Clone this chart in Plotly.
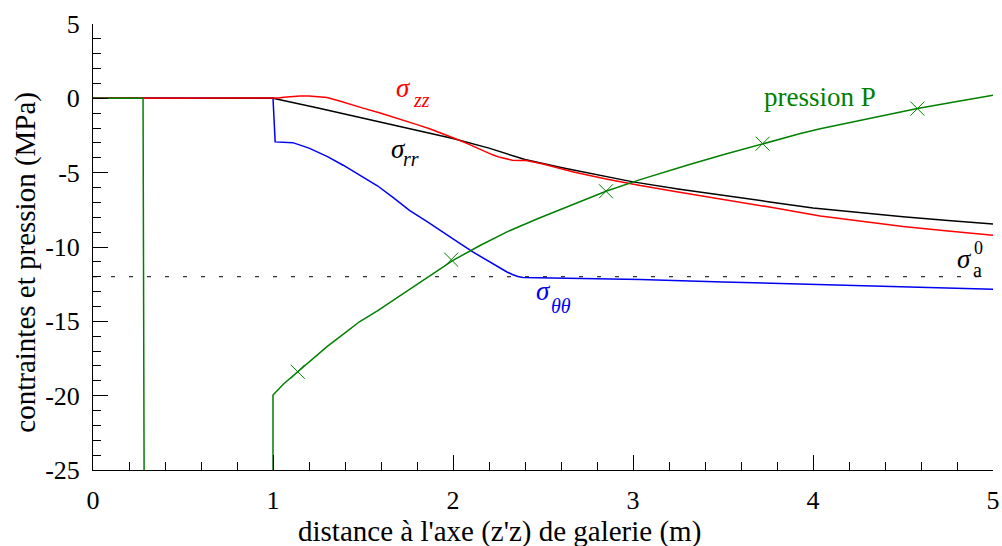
import plotly.graph_objects as go

# ---------------- data ----------------
# pression P (two pieces, gap between them is off-chart)
p_x = [0.0, 0.278, 0.284, None, 1.0, 1.0, 1.06, 1.137, 1.2, 1.3, 1.4, 1.48, 1.58, 1.67, 1.76,
       1.85, 1.93, 2.0, 2.15, 2.3, 2.48, 2.67, 2.85, 3.04, 3.17, 3.3, 3.5, 3.72, 3.93, 4.04,
       4.3, 4.58, 4.8, 5.0]
p_y = [0.0, 0.0, -25.5, None, -25.5, -19.96, -19.2, -18.39, -17.72, -16.7, -15.78, -15.03,
       -14.3, -13.57, -12.84, -12.12, -11.48, -10.9, -9.9, -8.98, -8.05, -7.12, -6.25, -5.47,
       -4.98, -4.5, -3.8, -3.05, -2.37, -2.04, -1.38, -0.69, -0.22, 0.2]
p_mark_x = [1.137, 1.99, 2.85, 3.72, 4.58]
p_mark_y = [-18.39, -10.85, -6.25, -3.05, -0.69]

# sigma_rr
rr_x = [0.0, 1.0, 1.25, 1.5, 1.75, 2.0, 2.2, 2.4, 2.6, 2.8, 3.0, 3.25, 3.5, 3.75, 4.0,
        4.25, 4.5, 4.75, 5.0]
rr_y = [0.0, 0.0, -0.65, -1.32, -2.0, -2.7, -3.35, -4.12, -4.65, -5.15, -5.62, -6.1, -6.55,
        -6.95, -7.38, -7.68, -7.97, -8.22, -8.45]

# sigma_zz
zz_x = [0.0, 1.0, 1.03, 1.06, 1.1, 1.15, 1.2, 1.25, 1.3, 1.37, 1.43, 1.5, 1.6, 1.71, 1.8,
        1.87, 1.93, 2.0, 2.08, 2.13, 2.18, 2.22, 2.26, 2.3, 2.33, 2.37, 2.4, 2.5, 2.67, 2.85,
        3.04, 3.25, 3.48, 3.75, 4.04, 4.25, 4.5, 4.75, 5.0]
zz_y = [0.0, 0.0, 0.03, 0.08, 0.13, 0.16, 0.16, 0.13, 0.06, -0.18, -0.42, -0.66, -1.0, -1.4,
        -1.77, -2.05, -2.32, -2.65, -3.05, -3.33, -3.6, -3.8, -3.97, -4.1, -4.16, -4.18,
        -4.17, -4.42, -4.95, -5.42, -5.87, -6.3, -6.74, -7.3, -7.91, -8.25, -8.62, -8.93,
        -9.21]

# sigma_thetatheta
tt_x = [0.0, 1.0, 1.012, 1.11, 1.2, 1.3, 1.39, 1.48, 1.58, 1.67, 1.76, 1.85, 1.93, 2.04,
        2.11, 2.19, 2.26, 2.3, 2.33, 2.36, 2.39, 2.6, 2.93, 3.04, 3.5, 4.04, 4.5, 5.0]
tt_y = [0.0, 0.0, -2.93, -2.98, -3.35, -3.9, -4.5, -5.15, -5.88, -6.7, -7.55, -8.25, -8.87,
        -9.77, -10.33, -10.92, -11.42, -11.68, -11.85, -11.98, -12.05, -12.08, -12.14, -12.19,
        -12.35, -12.52, -12.67, -12.84]

# initial stress sigma_a^0
sa0_x = [0.0, 5.0]
sa0_y = [-12.0, -12.0]

# axis ticks
x_ticks = [0, 1, 2, 3, 4, 5]
x_labels = ["0", "1", "2", "3", "4", "5"]
y_ticks = [5, 0, -5, -10, -15, -20, -25]
y_labels = ["5", "0", "-5", "-10", "-15", "-20", "-25"]

RED = "#ff0000"
BLUE = "#0000f0"
GREEN = "#008000"
FONT = "Liberation Serif"

fig = go.Figure()
fig.add_trace(go.Scatter(x=sa0_x, y=sa0_y, mode="lines",
                         line=dict(color="black", width=1, dash="4px,14px")))
fig.add_trace(go.Scatter(x=tt_x, y=tt_y, mode="lines", line=dict(color=BLUE, width=1.5)))
fig.add_trace(go.Scatter(x=rr_x, y=rr_y, mode="lines", line=dict(color="black", width=1.5)))
fig.add_trace(go.Scatter(x=zz_x, y=zz_y, mode="lines", line=dict(color=RED, width=1.5)))
fig.add_trace(go.Scatter(x=p_x, y=p_y, mode="lines", line=dict(color=GREEN, width=1.5),
                         connectgaps=False))
fig.add_trace(go.Scatter(x=p_mark_x, y=p_mark_y, mode="markers",
                         marker=dict(symbol="x-thin", size=14, color=GREEN,
                                     line=dict(color=GREEN, width=1))))

ann = []
def add(text, x, y, color, size, xref="x", yref="y"):
    ann.append(dict(text=text, x=x, y=y, xref=xref, yref=yref, showarrow=False,
                    xanchor="center", yanchor="middle",
                    font=dict(family=FONT, size=size, color=color)))

add("<i>σ</i>", 1.725, 0.706, RED, 27)
add("<i>zz</i>", 1.825, -0.1, RED, 20)
add("<i>σ</i>", 1.697, -3.39, "black", 27)
add("<i>rr</i>", 1.769, -4.1, "black", 20)
add("<i>σ</i>", 2.503, -12.97, BLUE, 27)
add("<i>θθ</i>", 2.6, -13.98, BLUE, 20)
add("<i>σ</i>", 4.842, -10.82, "black", 27)
add("a", 4.914, -11.56, "black", 20)
add("0", 4.922, -10.05, "black", 18)
add("pression P", 4.039, 0.12, GREEN, 27)
add("distance à l'axe (z'z) de galerie (m)", 0.4517, -0.139, "black", 29, "paper", "paper")
ann.append(dict(text="contraintes et pression (MPa)", x=-0.0744, y=0.465, xref="paper",
                yref="paper", showarrow=False, textangle=-90, xanchor="center",
                yanchor="middle", font=dict(family=FONT, size=29, color="black")))

fig.update_layout(
    width=1002, height=546,
    margin=dict(l=93, r=9, t=24, b=76, autoexpand=False),
    paper_bgcolor="white", plot_bgcolor="white",
    showlegend=False,
    annotations=ann,
    font=dict(family=FONT, size=26, color="black"),
    xaxis=dict(range=[0, 5], tickmode="array", tickvals=x_ticks, ticktext=x_labels,
               automargin=False,
               showgrid=False, zeroline=False, showline=True, linecolor="black", linewidth=1,
               ticks="inside", ticklen=15, tickwidth=1, tickcolor="black",
               ticklabelstandoff=7,
               minor=dict(dtick=0.2, tick0=0, ticks="inside", ticklen=8, tickwidth=1,
                          tickcolor="black", showgrid=False),
               tickfont=dict(family=FONT, size=26, color="black")),
    yaxis=dict(range=[-25, 5], tickmode="array", tickvals=y_ticks, ticktext=y_labels,
               automargin=False,
               showgrid=False, zeroline=False, showline=True, linecolor="black", linewidth=1,
               ticks="inside", ticklen=15, tickwidth=1, tickcolor="black",
               ticklabelstandoff=7,
               minor=dict(dtick=1, tick0=0, ticks="inside", ticklen=8, tickwidth=1,
                          tickcolor="black", showgrid=False),
               tickfont=dict(family=FONT, size=26, color="black")),
)

fig.write_html("out.html", config={"displayModeBar": False},
               post_script="document.body.style.margin='0px';document.body.style.overflow='hidden';")
